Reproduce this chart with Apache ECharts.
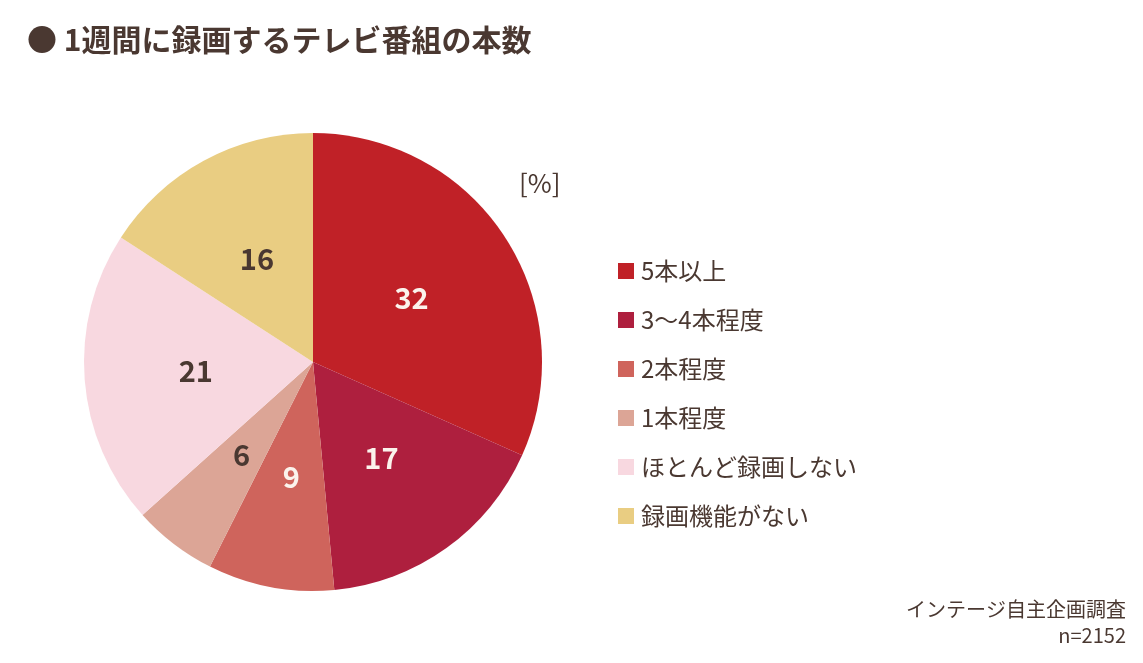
<!DOCTYPE html>
<html>
<head>
<meta charset="utf-8">
<script src="https://cdn.jsdelivr.net/npm/echarts@6/dist/echarts.min.js"></script>
<style>
html,body{margin:0;padding:0;background:#fff;}
#main{width:1143px;height:663px;}
</style>
</head>
<body>
<div id="main"></div>
<script>
//データ
var categories=["5本以上","3～4本程度","2本程度","1本程度","ほとんど録画しない","録画機能がない"];
var values=[32,17,9,6,21,16];
var colors=["#C02127","#AE1F3E","#CF645C","#DCA596","#F8D8E0","#E9CD82"];
var labelColors=["#FBF3EC","#FBF3EC","#FBF3EC","#4A3831","#4A3831","#4A3831"];

var FONT="'Noto Sans CJK JP', sans-serif";
var TEXT="#4A3831";

var pieData=[];
for(var i=0;i<categories.length;i++){
	pieData.push({
		name:categories[i],
		value:values[i],
		itemStyle:{color:colors[i]},
		label:{color:labelColors[i]}
	});
}

var myChart=echarts.init(document.getElementById('main'));
var option={
	backgroundColor:"#fff",
	animation:false,
	title:[{
		text:"● 1週間に録画するテレビ番組の本数",
		left:22,top:20,
		textStyle:{fontFamily:FONT,fontSize:30,fontWeight:"bold",color:TEXT}
	},{
		text:"[%]",
		left:514,top:165,
		textStyle:{fontFamily:FONT,fontSize:26,fontWeight:"normal",color:TEXT}
	},{
		//出典(右寄せ)
		text:"インテージ自主企画調査",
		right:12,top:594,
		textStyle:{fontFamily:FONT,fontSize:20,fontWeight:"normal",color:TEXT}
	},{
		text:"n=2152",
		right:12,top:620,
		textStyle:{fontFamily:FONT,fontSize:20,fontWeight:"normal",color:TEXT}
	}],
	legend:{
		orient:"vertical",
		left:613,top:254,
		itemWidth:16,itemHeight:16,itemGap:25,
		icon:"rect",
		data:categories,
		textStyle:{fontFamily:FONT,fontSize:24,color:TEXT,padding:[0,0,0,2]}
	},
	series:[{
		type:"pie",
		center:[313,362],
		radius:[0,229],
		startAngle:90,
		clockwise:true,
		data:pieData,
		label:{
			show:true,
			position:"inside",
			formatter:"{c}",
			fontFamily:FONT,
			fontSize:29,
			fontWeight:"bold"
		},
		labelLine:{show:false},
		emphasis:{disabled:true}
	}]
};
myChart.setOption(option);
</script>
</body>
</html>
